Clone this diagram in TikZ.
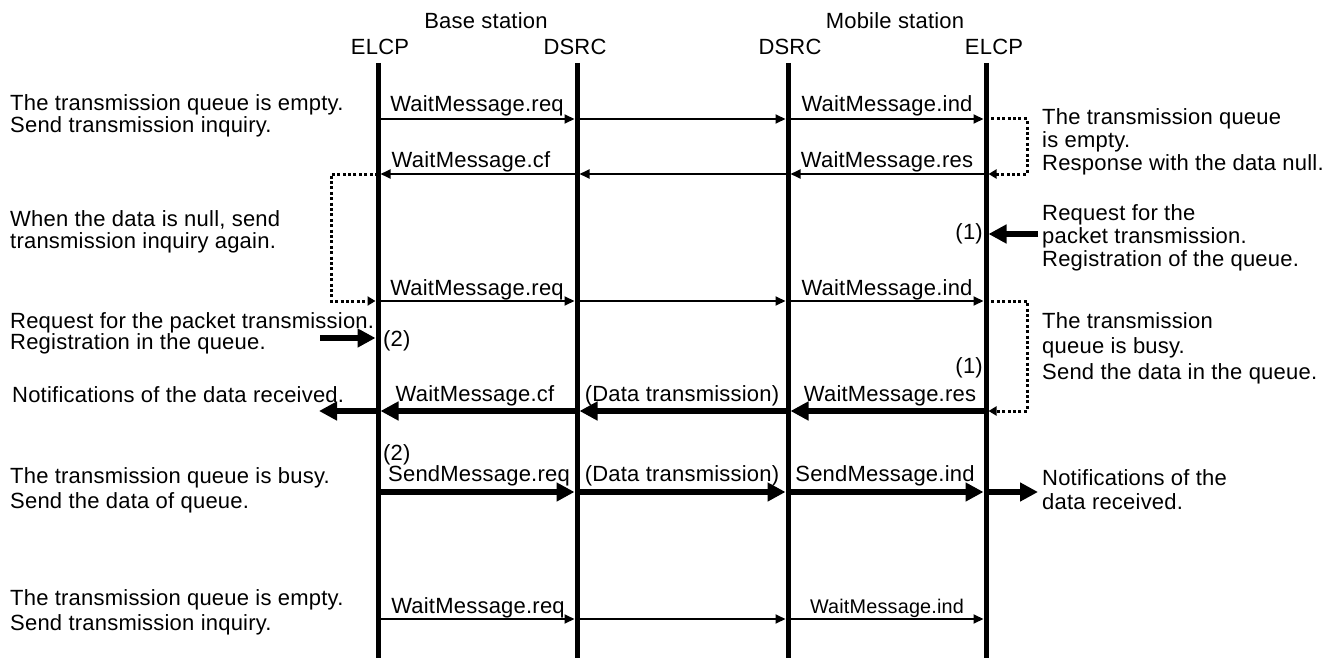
\documentclass[tikz,border=0pt]{standalone}
\usepackage{fontspec}
\setmainfont{Liberation Sans}[LetterSpace=1]
\usetikzlibrary{arrows.meta}

\begin{document}
\begin{tikzpicture}[x=1pt,y=-1pt,
  txt/.style={font=\fontsize{22}{24}\selectfont, inner sep=0pt},
  lbl/.style={txt, anchor=base},
  lifeline/.style={line width=5pt},
  msg/.style={line width=1.8pt, -{Triangle[length=10pt,width=9pt]}, shorten >=2.5pt},
  bigmsg/.style={line width=6pt, -{Triangle[length=18pt,width=18pt]}, shorten >=2.5pt},
  loopback/.style={line width=3pt, dash pattern=on 3pt off 2.4pt,
                   -{Triangle[length=8pt,width=9pt]}, shorten >=2.5pt},
  note/.style={txt, anchor=west, align=left}]

\useasboundingbox (0,0) rectangle (1322,658);

% column headings
\node[txt] (base)   at (486,21) {Base station};
\node[txt] (mobile) at (895,21) {Mobile station};
\node[txt] (hbE) at (380,47) {ELCP};
\node[txt] (hbD) at (575,47) {DSRC};
\node[txt] (hmD) at (790,47) {DSRC};
\node[txt] (hmE) at (994,47) {ELCP};

% lifelines
\coordinate (bE) at (378,63);
\coordinate (bD) at (577,63);
\coordinate (mD) at (788,63);
\coordinate (mE) at (986,63);
\coordinate (bot) at (0,660);
\foreach \l in {bE,bD,mD,mE}
  \draw[lifeline] (\l) -- (\l |- bot);

% message rows
\coordinate (r1) at (0,119);
\coordinate (r2) at (0,174);
\coordinate (r3) at (0,301);
\coordinate (r4) at (0,411);
\coordinate (r5) at (0,492);
\coordinate (r6) at (0,619);
\coordinate (q1) at (0,234);
\coordinate (q2) at (0,338);

% row 1: inquiry
\draw[msg] (bE |- r1) -- (bD |- r1);
\draw[msg] (bD |- r1) -- (mD |- r1);
\draw[msg] (mD |- r1) -- (mE |- r1);
\node[lbl] (l1a) at (477,112) {WaitMessage.req};
\node[lbl] (l1b) at (887,112) {WaitMessage.ind};

% row 2: null response
\draw[msg] (mE |- r2) -- (mD |- r2);
\draw[msg] (mD |- r2) -- (bD |- r2);
\draw[msg] (bD |- r2) -- (bE |- r2);
\node[lbl] (l2a) at (471,167) {WaitMessage.cf};
\node[lbl] (l2b) at (887,167) {WaitMessage.res};

% row 3: inquiry again
\draw[msg] (bE |- r3) -- (bD |- r3);
\draw[msg] (bD |- r3) -- (mD |- r3);
\draw[msg] (mD |- r3) -- (mE |- r3);
\node[lbl] (l3a) at (477,295) {WaitMessage.req};
\node[lbl] (l3b) at (887,295) {WaitMessage.ind};

% row 4: data back to the base station
\coordinate (outL) at (319,411);
\draw[bigmsg] (mE |- r4) -- (mD |- r4);
\draw[bigmsg] (mD |- r4) -- (bD |- r4);
\draw[bigmsg] (bD |- r4) -- (bE |- r4);
\draw[bigmsg, shorten >=0pt] (bE |- r4) -- (outL);
\node[lbl] (l4a) at (475,401) {WaitMessage.cf};
\node[lbl] (l4b) at (682,401) {(Data transmission)};
\node[lbl] (l4c) at (890,401) {WaitMessage.res};

% row 5: data to the mobile station
\coordinate (outR) at (1038,492);
\draw[bigmsg] (bE |- r5) -- (bD |- r5);
\draw[bigmsg] (bD |- r5) -- (mD |- r5);
\draw[bigmsg] (mD |- r5) -- (mE |- r5);
\draw[bigmsg, shorten >=0pt] (mE |- r5) -- (outR);
\node[lbl] (l5a) at (479,481) {SendMessage.req};
\node[lbl] (l5b) at (682,481) {(Data transmission)};
\node[lbl] (l5c) at (885,481) {SendMessage.ind};

% row 6: inquiry
\draw[msg] (bE |- r6) -- (bD |- r6);
\draw[msg] (bD |- r6) -- (mD |- r6);
\draw[msg] (mD |- r6) -- (mE |- r6);
\node[lbl] (l6a) at (478,613) {WaitMessage.req};
\node[lbl, font=\fontsize{19.8}{21}\selectfont] (l6b) at (887,613) {WaitMessage.ind};

% packet requests entering the queues
\coordinate (inR) at (1038,234);
\coordinate (inL) at (320,338);
\draw[bigmsg] (inR) -- (mE |- q1);
\draw[bigmsg] (inL) -- (bE |- q2);
\node[txt, anchor=east] (n1a) at (983,234) {(1)};
\node[txt, anchor=east] (n1b) at (983,368) {(1)};
\node[txt, anchor=west] (n2a) at (383,341) {(2)};
\node[txt, anchor=west] (n2b) at (383,455) {(2)};

% internal turn-arounds
\coordinate (kR1) at (1027,0);
\coordinate (kL)  at (331,0);
\draw[loopback] (mE |- r1) -| (kR1 |- r2) -- (mE |- r2);
\draw[loopback] (bE |- r2) -| (kL |- r3) -- (bE |- r3);
\draw[loopback] (mE |- r3) -| (kR1 |- r4) -- (mE |- r4);

% notes on the left
\node[note, font=\fontsize{22}{22}\selectfont] (t1) at (10,116)
  {The transmission queue is empty.\\Send transmission inquiry.};
\node[note, font=\fontsize{22}{22}\selectfont] (t2) at (10,232)
  {When the data is null, send\\transmission inquiry again.};
\node[note, font=\fontsize{22}{21}\selectfont] (t3) at (10,333)
  {Request for the packet transmission.\\Registration in the queue.};
\node[note] (t4) at (12,395) {Notifications of the data received.};
\node[note, font=\fontsize{22}{25}\selectfont] (t5) at (10,490)
  {The transmission queue is busy.\\Send the data of queue.};
\node[note, font=\fontsize{22}{25}\selectfont] (t6) at (10,612)
  {The transmission queue is empty.\\Send transmission inquiry.};

% notes on the right
\node[note, font=\fontsize{22}{23}\selectfont] (u1) at (1042,142)
  {The transmission queue\\is empty.\\Response with the data null.};
\node[note, font=\fontsize{22}{23}\selectfont] (u2) at (1042,238)
  {Request for the\\packet transmission.\\Registration of the queue.};
\node[note, font=\fontsize{22}{25.5}\selectfont] (u3) at (1042,348)
  {The transmission\\queue is busy.\\Send the data in the queue.};
\node[note, font=\fontsize{22}{24}\selectfont] (u4) at (1042,490)
  {Notifications of the\\data received.};

\end{tikzpicture}
\end{document}
